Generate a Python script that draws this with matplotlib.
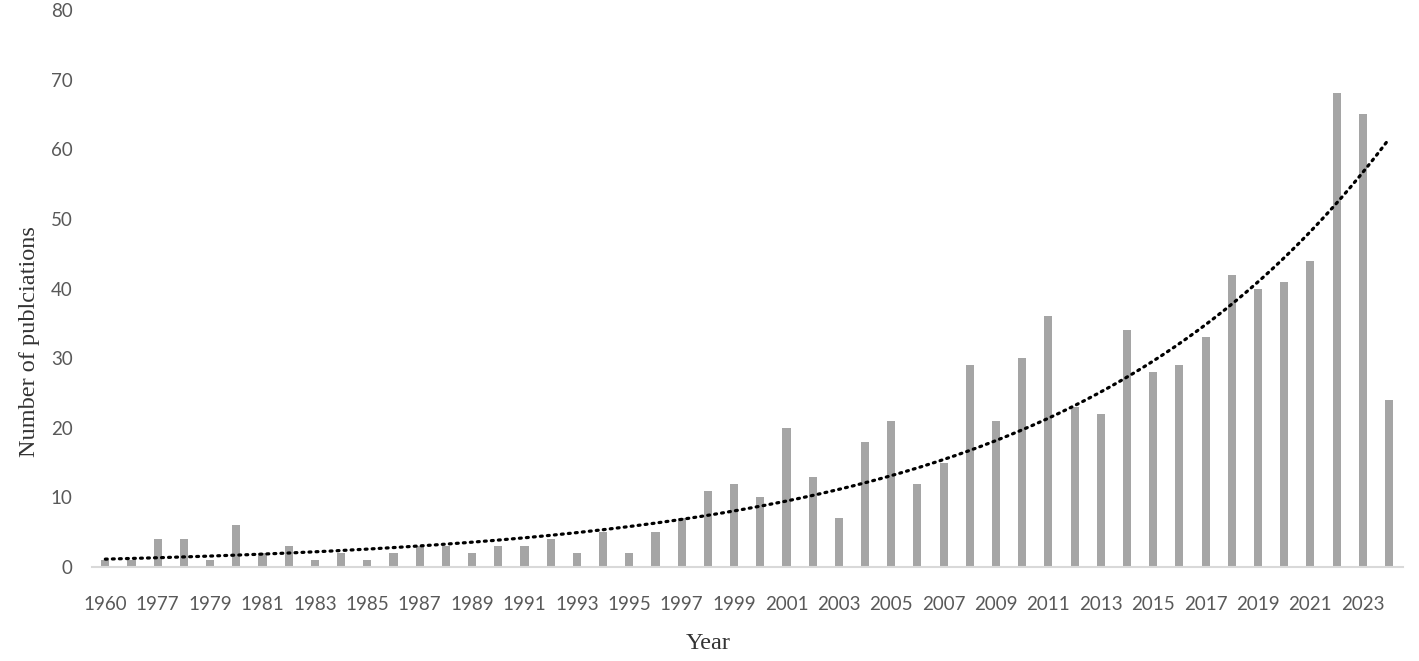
import matplotlib
matplotlib.use("Agg")
import matplotlib.pyplot as plt
import numpy as np

years = ["1960"] + [str(y) for y in range(1976, 2025)]
counts = [1, 1, 4, 4, 1, 6, 2, 3, 1, 2,
          1, 2, 3, 3, 2, 3, 3, 4, 2, 5,
          2, 5, 7, 11, 12, 10, 20, 13, 7, 18,
          21, 12, 15, 29, 21, 30, 36, 23, 22, 34,
          28, 29, 33, 42, 40, 41, 44, 68, 65, 24]

fig = plt.figure(figsize=(14.19, 6.61), dpi=100)
ax = fig.add_axes([0.065, 0.142, 0.924, 0.843])

x = np.arange(len(years))
ax.bar(x, counts, width=0.31, color="#a5a5a5", zorder=2)

# exponential trendline like excel (x = 1..n)
xx = x + 1
b, ln_a = np.polyfit(xx, np.log(counts), 1)
xs = np.linspace(1, len(years), 300)
ax.plot(xs - 1, np.exp(ln_a) * np.exp(b * xs), color="black", lw=2.3,
        linestyle=(0, (0.6, 1.6)), dash_capstyle="round", zorder=3)

ax.set_ylim(0, 80)
ax.set_xlim(-0.5, len(years) - 0.45)
ax.set_yticks(range(0, 81, 10))
ax.set_xticks(x[::2])
ax.set_xticklabels(years[::2])

for s in ["top", "right", "left"]:
    ax.spines[s].set_visible(False)
ax.spines["bottom"].set_color("#d9d9d9")
ax.spines["bottom"].set_linewidth(1.5)
ax.tick_params(length=0, labelsize=13.5, labelcolor="#595959")
ax.tick_params(axis="x", pad=21)
ax.tick_params(axis="y", pad=14)
for lab in ax.get_xticklabels() + ax.get_yticklabels():
    lab.set_family("Lato")

ax.set_ylabel("Number of publciations", family="Liberation Serif", fontsize=17.5, color="#333333")
ax.set_xlabel("Year", family="Liberation Serif", fontsize=17.5, color="#333333")
ax.yaxis.set_label_coords(-0.040, 0.404)
ax.xaxis.set_label_coords(0.47, -0.118)

fig.savefig("out.png", dpi=100)
